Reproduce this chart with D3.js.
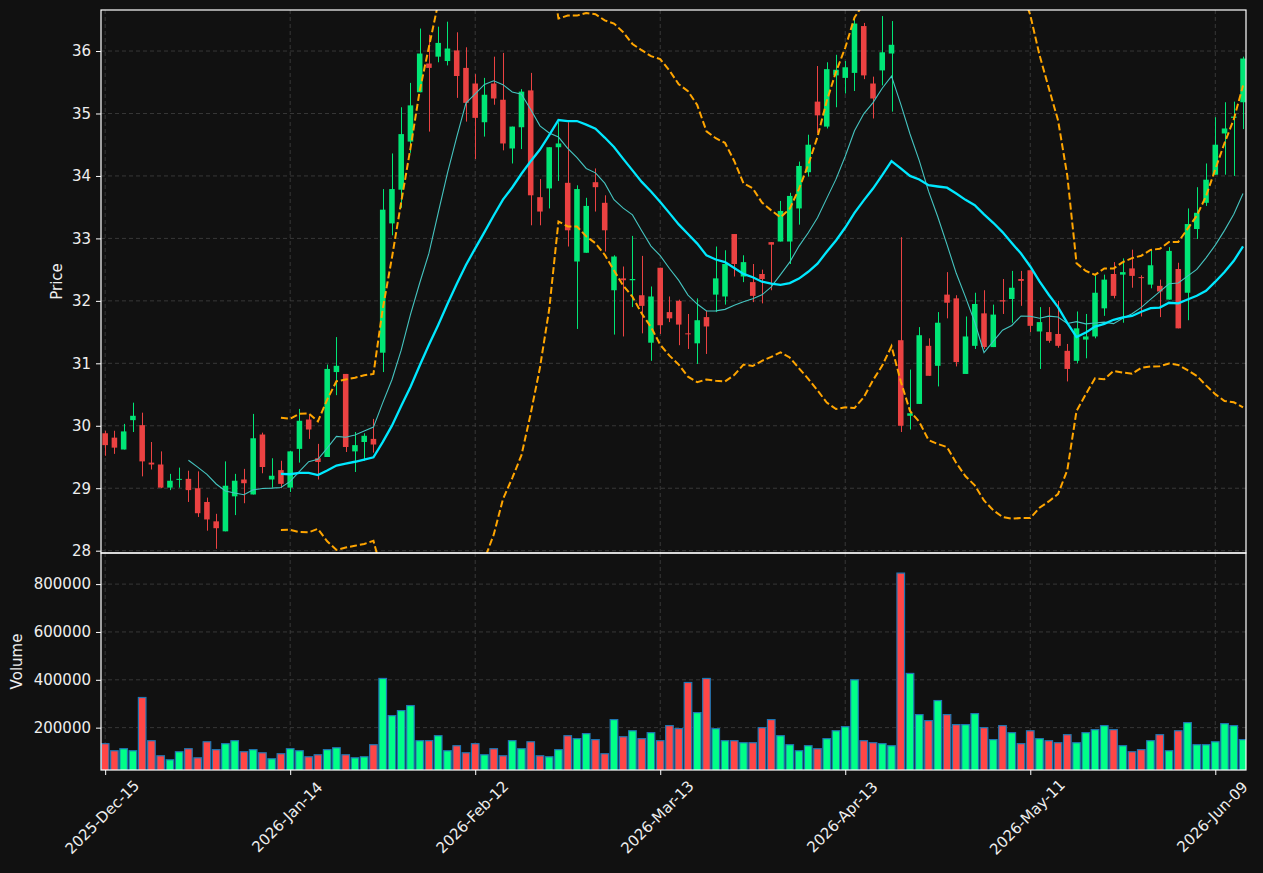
<!DOCTYPE html>
<html>
<head>
<meta charset="utf-8">
<script src="https://cdn.jsdelivr.net/npm/d3@7"></script>
<style>
  body { margin: 0; background: #111111; }
  svg { display: block; font-family: "DejaVu Sans", sans-serif; }
</style>
</head>
<body>
<svg id="chart"></svg>
<script>
// tick labels on the shared date axis (one every 20 sessions)
const tickLabels = ["2025-Dec-15", "2026-Jan-14", "2026-Feb-12", "2026-Mar-13", "2026-Apr-13", "2026-May-11", "2026-Jun-09"];
const tickBars = [0, 20, 40, 60, 80, 100, 120];

const opens = [29.88,29.81,29.62,30.09,30.01,29.41,29.38,29.01,29.14,29.15,29.00,28.78,28.47,28.31,28.87,29.14,28.90,29.86,29.14,29.29,
  29.01,29.63,30.10,29.48,29.50,30.86,30.83,29.59,29.74,29.79,31.17,33.24,33.78,34.55,35.34,35.80,35.91,35.84,36.01,35.73,
  35.48,34.86,35.48,35.22,34.44,34.78,35.37,33.66,33.80,34.46,33.89,32.63,32.77,33.90,33.57,32.17,32.36,32.33,32.09,31.33,
  32.53,31.82,32.00,31.48,31.32,31.74,32.10,32.07,33.07,32.39,32.30,32.43,32.94,32.95,32.95,33.48,34.06,35.19,34.79,35.61,
  35.57,35.65,36.40,35.48,35.69,35.96,31.37,30.16,30.35,31.28,30.96,32.10,32.04,30.83,31.28,31.80,31.26,32.01,32.03,32.35,
  32.49,31.51,31.50,31.47,31.20,31.04,31.38,31.43,31.88,32.43,32.42,32.52,32.38,32.26,32.24,32.02,32.51,32.13,33.15,33.57,
  34.02,34.68,34.93,35.18];
const highs = [29.92,29.92,30.03,30.37,30.21,29.74,29.59,29.23,29.33,29.28,29.27,28.85,28.59,29.43,29.23,29.31,30.19,29.89,29.48,29.44,
  29.60,30.27,30.18,29.71,30.98,31.42,30.83,29.90,29.88,30.11,33.79,34.36,35.10,35.49,36.36,36.26,36.39,36.47,36.30,36.06,
  35.63,35.57,35.91,35.97,34.79,35.39,35.65,33.95,34.46,34.86,34.86,33.85,33.65,34.12,33.69,32.73,32.55,33.04,32.72,32.23,
  32.53,32.07,32.02,31.79,32.04,31.84,32.87,32.81,33.07,32.73,32.59,32.50,32.94,33.60,33.73,34.23,34.66,35.76,35.82,35.94,
  35.84,36.54,36.45,35.59,36.56,36.48,33.02,30.90,31.58,31.40,31.82,32.46,32.09,31.75,32.13,32.17,31.94,32.35,32.48,32.48,
  32.49,31.90,31.90,32.00,31.31,31.83,31.79,32.41,32.42,32.62,32.68,32.82,32.41,32.82,32.34,32.86,32.61,33.48,33.82,34.20,
  34.94,35.18,35.19,35.91];
const lows = [29.52,29.55,29.62,29.90,29.19,29.30,29.00,28.97,29.01,28.78,28.54,28.32,28.03,28.31,28.57,28.76,28.90,29.24,29.01,29.00,
  28.94,29.41,29.79,29.14,29.50,30.49,29.58,29.26,29.44,29.57,30.86,33.05,33.49,34.37,35.34,34.71,35.82,35.77,35.25,34.87,
  34.27,34.63,35.14,34.41,34.20,34.43,33.21,33.21,33.48,33.92,32.87,31.55,32.77,33.43,32.79,31.46,31.43,31.90,31.48,31.04,
  31.47,31.66,31.29,31.23,30.99,31.15,31.82,31.94,32.39,32.30,31.98,31.96,32.17,32.95,32.59,33.22,33.99,34.69,34.76,35.10,
  35.32,35.36,35.55,34.92,35.45,35.03,29.90,29.94,30.35,30.80,30.63,31.72,30.95,30.83,31.23,31.23,31.26,31.79,31.65,31.92,
  31.50,30.91,31.33,31.25,30.71,31.00,31.08,31.40,31.76,32.04,31.65,32.21,31.75,32.20,31.74,32.02,31.56,31.69,32.99,33.52,
  34.02,34.02,34.00,34.75];
const closes = [29.69,29.65,29.91,30.16,29.43,29.38,29.01,29.12,29.15,28.97,28.60,28.50,28.36,29.04,29.12,29.08,29.80,29.34,29.20,29.07,
  29.59,30.08,29.94,29.42,30.91,30.96,29.66,29.69,29.84,29.70,33.46,33.79,34.67,35.13,35.96,35.73,36.13,36.04,35.60,35.17,
  34.93,35.30,35.24,34.52,34.79,35.35,33.69,33.43,34.46,34.52,33.13,33.79,33.52,33.82,33.13,32.71,32.33,32.35,31.92,32.07,
  31.61,31.72,31.62,31.47,31.69,31.59,32.36,32.59,32.59,32.62,32.08,32.35,32.90,33.44,33.68,34.16,34.50,34.97,35.71,35.70,
  35.74,36.44,35.61,35.24,35.98,36.10,30.00,30.20,31.45,30.80,31.65,31.97,31.02,31.43,31.95,31.26,31.78,31.99,32.21,32.32,
  31.60,31.66,31.36,31.28,30.91,31.56,31.43,32.13,32.34,32.08,32.46,32.40,32.37,32.57,32.15,32.80,31.56,33.23,33.41,33.94,
  34.50,34.76,34.95,35.88];
const volumes = [133000,103500,112000,103500,326000,145500,82500,65700,99300,112000,74000,141000,108000,133000,145500,99300,108000,95000,70000,91000,
  112000,103500,78300,86700,108000,116000,86700,74000,78300,128700,405600,250300,271300,292300,145500,145500,166400,103500,124500,95000,
  133000,86700,112000,82500,145500,112000,141000,82500,78300,108000,166400,154000,175000,150000,91000,233600,162000,187000,154000,179000,
  145500,208400,196000,388800,262900,405600,195800,145500,145500,137000,137000,200000,233600,166400,128700,103500,124500,112000,154000,187000,
  204000,400000,145500,137000,133000,124500,846000,426600,254500,229400,313300,254500,212600,212600,258700,200000,150000,208400,179000,133000,
  187000,154000,145500,137000,170600,137000,179000,191600,208400,191600,124500,99300,108000,145500,170600,103500,187000,221000,128700,128700,
  141000,216800,208400,150000];

const W = 1263, H = 873;
const pLeft = 101, pRight = 1246, pTop = 10, pMid = 553, pBottom = 770;

const svg = d3.select("#chart").attr("width", W).attr("height", H);
svg.append("rect").attr("width", W).attr("height", H).attr("fill", "#111111");

const idx = d3.range(closes.length);
const x = d3.scaleLinear().domain([-0.45, 123.32]).range([pLeft, pRight]);
const yP = d3.scaleLinear().domain([27.963, 36.657]).range([pMid, pTop]);
const yV = d3.scaleLinear().domain([23000, 930000]).range([pBottom, pMid]);
const step = x(1) - x(0);

// rolling mean / band helpers
function rolling(n, fn) {
  return idx.map(i => i < n - 1 ? null : fn(closes.slice(i - n + 1, i + 1)));
}
const ma10 = rolling(10, d3.mean);
const ma20 = rolling(20, d3.mean);
const sd20 = rolling(20, w => { const m = d3.mean(w); return Math.sqrt(d3.mean(w, v => (v - m) * (v - m))); });
const bbUp = idx.map(i => ma20[i] == null ? null : ma20[i] + 2 * sd20[i]);
const bbLo = idx.map(i => ma20[i] == null ? null : ma20[i] - 2 * sd20[i]);

const defs = svg.append("defs");
defs.append("clipPath").attr("id", "clipP").append("rect")
  .attr("x", pLeft).attr("y", pTop).attr("width", pRight - pLeft).attr("height", pMid - pTop);
defs.append("clipPath").attr("id", "clipV").append("rect")
  .attr("x", pLeft).attr("y", pMid).attr("width", pRight - pLeft).attr("height", pBottom - pMid);

const gridColor = "#3c3c3c";
const textColor = "#eeeeee";

// grids
const priceTicks = d3.range(28, 37);
const volTicks = [200000, 400000, 600000, 800000];
const grid = svg.append("g").attr("stroke", gridColor).attr("stroke-width", 0.9).attr("stroke-dasharray", "4,3");
grid.selectAll(".hp").data(priceTicks).join("line").attr("class", "hp")
  .attr("x1", pLeft).attr("x2", pRight).attr("y1", d => yP(d)).attr("y2", d => yP(d));
grid.selectAll(".hv").data(volTicks).join("line").attr("class", "hv")
  .attr("x1", pLeft).attr("x2", pRight).attr("y1", d => yV(d)).attr("y2", d => yV(d));
grid.selectAll(".vp").data(tickBars).join("line").attr("class", "vp")
  .attr("x1", d => x(d)).attr("x2", d => x(d)).attr("y1", pTop).attr("y2", pMid);
grid.selectAll(".vv").data(tickBars).join("line").attr("class", "vv")
  .attr("x1", d => x(d)).attr("x2", d => x(d)).attr("y1", pMid).attr("y2", pBottom);

// volume bars
const upV = "#00ff88", dnV = "#ff4646";
svg.append("g").attr("clip-path", "url(#clipV)")
  .selectAll("rect").data(idx).join("rect")
  .attr("x", i => x(i) - step * 0.41)
  .attr("width", step * 0.82)
  .attr("y", i => yV(volumes[i]))
  .attr("height", i => pBottom + 2 - yV(volumes[i]))
  .attr("fill", i => closes[i] >= opens[i] ? upV : dnV)
  .attr("stroke", "#1f77b4")
  .attr("stroke-width", 1.2);

// candles
const upC = "#00e676", dnC = "#eb4242";
const candles = svg.append("g").attr("clip-path", "url(#clipP)");
const cg = candles.selectAll("g").data(idx).join("g");
cg.append("line")
  .attr("x1", i => Math.round(x(i)) + 0.5).attr("x2", i => Math.round(x(i)) + 0.5)
  .attr("y1", i => yP(highs[i])).attr("y2", i => yP(lows[i]))
  .attr("stroke", i => closes[i] >= opens[i] ? upC : dnC)
  .attr("stroke-width", 1);
cg.append("rect")
  .attr("x", i => x(i) - step * 0.3)
  .attr("width", step * 0.6)
  .attr("y", i => yP(Math.max(opens[i], closes[i])))
  .attr("height", i => Math.max(1, Math.abs(yP(opens[i]) - yP(closes[i]))))
  .attr("fill", i => closes[i] >= opens[i] ? upC : dnC);

// indicator lines
const lineGen = d3.line().defined(d => d != null).x((d, i) => x(i)).y(d => yP(d));
const lines = svg.append("g").attr("clip-path", "url(#clipP)").attr("fill", "none");
lines.append("path").attr("d", lineGen(bbUp)).attr("stroke", "#ffa500").attr("stroke-width", 2).attr("stroke-dasharray", "7,3");
lines.append("path").attr("d", lineGen(bbLo)).attr("stroke", "#ffa500").attr("stroke-width", 2).attr("stroke-dasharray", "7,3");
lines.append("path").attr("d", lineGen(ma10)).attr("stroke", "#45c4c0").attr("stroke-width", 1.1);
lines.append("path").attr("d", lineGen(ma20)).attr("stroke", "#00e8ff").attr("stroke-width", 2.3);

// panel frames
svg.append("rect").attr("x", pLeft).attr("y", pTop).attr("width", pRight - pLeft).attr("height", pMid - pTop)
  .attr("fill", "none").attr("stroke", "#ffffff").attr("stroke-width", 1.2);
svg.append("rect").attr("x", pLeft).attr("y", pMid).attr("width", pRight - pLeft).attr("height", pBottom - pMid)
  .attr("fill", "none").attr("stroke", "#ffffff").attr("stroke-width", 1.2);

// y axes
const axP = svg.append("g").attr("transform", `translate(${pLeft},0)`)
  .call(d3.axisLeft(yP).tickValues(priceTicks).tickSize(5).tickPadding(5).tickFormat(d3.format("d")));
const axV = svg.append("g").attr("transform", `translate(${pLeft},0)`)
  .call(d3.axisLeft(yV).tickValues(volTicks).tickSize(5).tickPadding(5).tickFormat(d3.format("d")));
[axP, axV].forEach(a => {
  a.select(".domain").remove();
  a.selectAll("line").attr("stroke", "#ffffff");
  a.selectAll("text").attr("fill", textColor).attr("font-size", 15).attr("font-family", "DejaVu Sans");
});

// x axis
const axX = svg.append("g").attr("transform", `translate(0,${pBottom})`)
  .call(d3.axisBottom(x).tickValues(tickBars).tickSize(5).tickFormat(""));
axX.select(".domain").remove();
axX.selectAll("line").attr("stroke", "#ffffff");
svg.append("g").selectAll("text").data(tickBars).join("text")
  .attr("transform", d => `translate(${x(d) - 3},${817}) rotate(-45)`)
  .attr("text-anchor", "middle")
  .attr("dy", "0.35em")
  .attr("fill", textColor)
  .attr("font-size", 15)
  .text((d, i) => tickLabels[i]);

// axis titles
svg.append("text").attr("transform", `translate(57,${(pTop + pMid) / 2}) rotate(-90)`)
  .attr("text-anchor", "middle").attr("dy", "0.35em").attr("fill", textColor).attr("font-size", 15).text("Price");
svg.append("text").attr("transform", `translate(17,${(pMid + pBottom) / 2}) rotate(-90)`)
  .attr("text-anchor", "middle").attr("dy", "0.35em").attr("fill", textColor).attr("font-size", 15).text("Volume");
</script>
</body>
</html>
